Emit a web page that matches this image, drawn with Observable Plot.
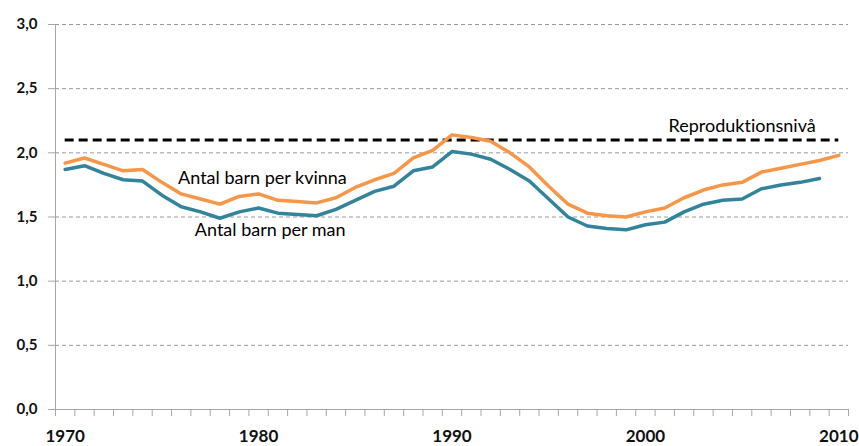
<!DOCTYPE html>
<html>
<head>
<meta charset="utf-8">
<script src="https://cdn.jsdelivr.net/npm/d3@7"></script>
<script src="https://cdn.jsdelivr.net/npm/@observablehq/plot@0.6"></script>
<style>
  html, body { margin: 0; padding: 0; background: #fff; }
  #chart { width: 859px; height: 446px; }
  #chart svg text { font-variant-ligatures: none; font-feature-settings: "liga" 0; }
</style>
</head>
<body>
<div id="chart"></div>
<script>
const years = d3.range(1970, 2011);
const women = [1.92, 1.96, 1.91, 1.86, 1.87, 1.77, 1.68, 1.64, 1.60, 1.66, 1.68, 1.63, 1.62, 1.61, 1.65, 1.73, 1.79, 1.84, 1.96, 2.02, 2.14, 2.12, 2.09, 2.00, 1.89, 1.74, 1.60, 1.53, 1.51, 1.50, 1.54, 1.57, 1.65, 1.71, 1.75, 1.77, 1.85, 1.88, 1.91, 1.94, 1.98];
const menYears = d3.range(1970, 2010);
const men = [1.87, 1.90, 1.84, 1.79, 1.78, 1.67, 1.58, 1.54, 1.49, 1.54, 1.57, 1.53, 1.52, 1.51, 1.56, 1.63, 1.70, 1.74, 1.86, 1.89, 2.01, 1.99, 1.95, 1.87, 1.78, 1.64, 1.50, 1.43, 1.41, 1.40, 1.44, 1.46, 1.54, 1.60, 1.63, 1.64, 1.72, 1.75, 1.77, 1.80];
const reproductionLevel = 2.1;
const yTicks = [0, 0.5, 1.0, 1.5, 2.0, 2.5, 3.0];
const xTickLabels = [1970, 1980, 1990, 2000, 2010];
const labelTexts = ["Antal barn per kvinna", "Antal barn per man", "Reproduktionsnivå"];
const labelYears = [1980.2, 1980.6, 2005.0];
const labelValues = [1.80, 1.40, 2.21];

const womenData = years.map((y, i) => ({year: y, value: women[i]}));
const menData = menYears.map((y, i) => ({year: y, value: men[i]}));
const labels = labelTexts.map((t, i) => ({text: t, year: labelYears[i], value: labelValues[i]}));
const boundaries = d3.range(1969.5, 2011, 1);

const font = "Lato, 'Open Sans', sans-serif";

const chart = Plot.plot({
  width: 859,
  height: 446,
  marginLeft: 55,
  marginRight: 11,
  marginTop: 24,
  marginBottom: 37,
  style: {fontFamily: font, background: "#fff"},
  x: {domain: [1969.5, 2010.5]},
  y: {domain: [0, 3]},
  marks: [
    Plot.ruleY(yTicks.filter(d => d > 0), {stroke: "#9a9a9a", strokeWidth: 1, strokeDasharray: "4,3"}),
    Plot.ruleX([1969.5], {stroke: "#a6a6a6", strokeWidth: 1}),
    Plot.ruleY([0], {stroke: "#a6a6a6", strokeWidth: 1}),
    Plot.axisY({ticks: yTicks, tickSize: 7, tickPadding: 11, stroke: "#a6a6a6", fill: "#111", fontSize: 15, fontWeight: "bold", tickFormat: d => d.toFixed(1).replace(".", ","), label: null}),
    Plot.axisX(boundaries, {tickSize: 7, stroke: "#a6a6a6", tickFormat: () => "", label: null}),
    Plot.axisX(xTickLabels, {tickSize: 0, tickPadding: 20, fill: "#111", fontSize: 17, fontWeight: "bold", tickFormat: d => String(d), label: null}),
    Plot.ruleY([reproductionLevel], {x1: 1970, x2: 2010, stroke: "#000", strokeWidth: 3, strokeDasharray: "9,5"}),
    Plot.line(menData, {x: "year", y: "value", stroke: "#31849B", strokeWidth: 3.5}),
    Plot.line(womenData, {x: "year", y: "value", stroke: "#F79646", strokeWidth: 3.5}),
    Plot.text(labels, {x: "year", y: "value", text: "text", fontSize: 18, fill: "#000", fontFamily: font})
  ]
});
document.getElementById("chart").appendChild(chart);
</script>
</body>
</html>
